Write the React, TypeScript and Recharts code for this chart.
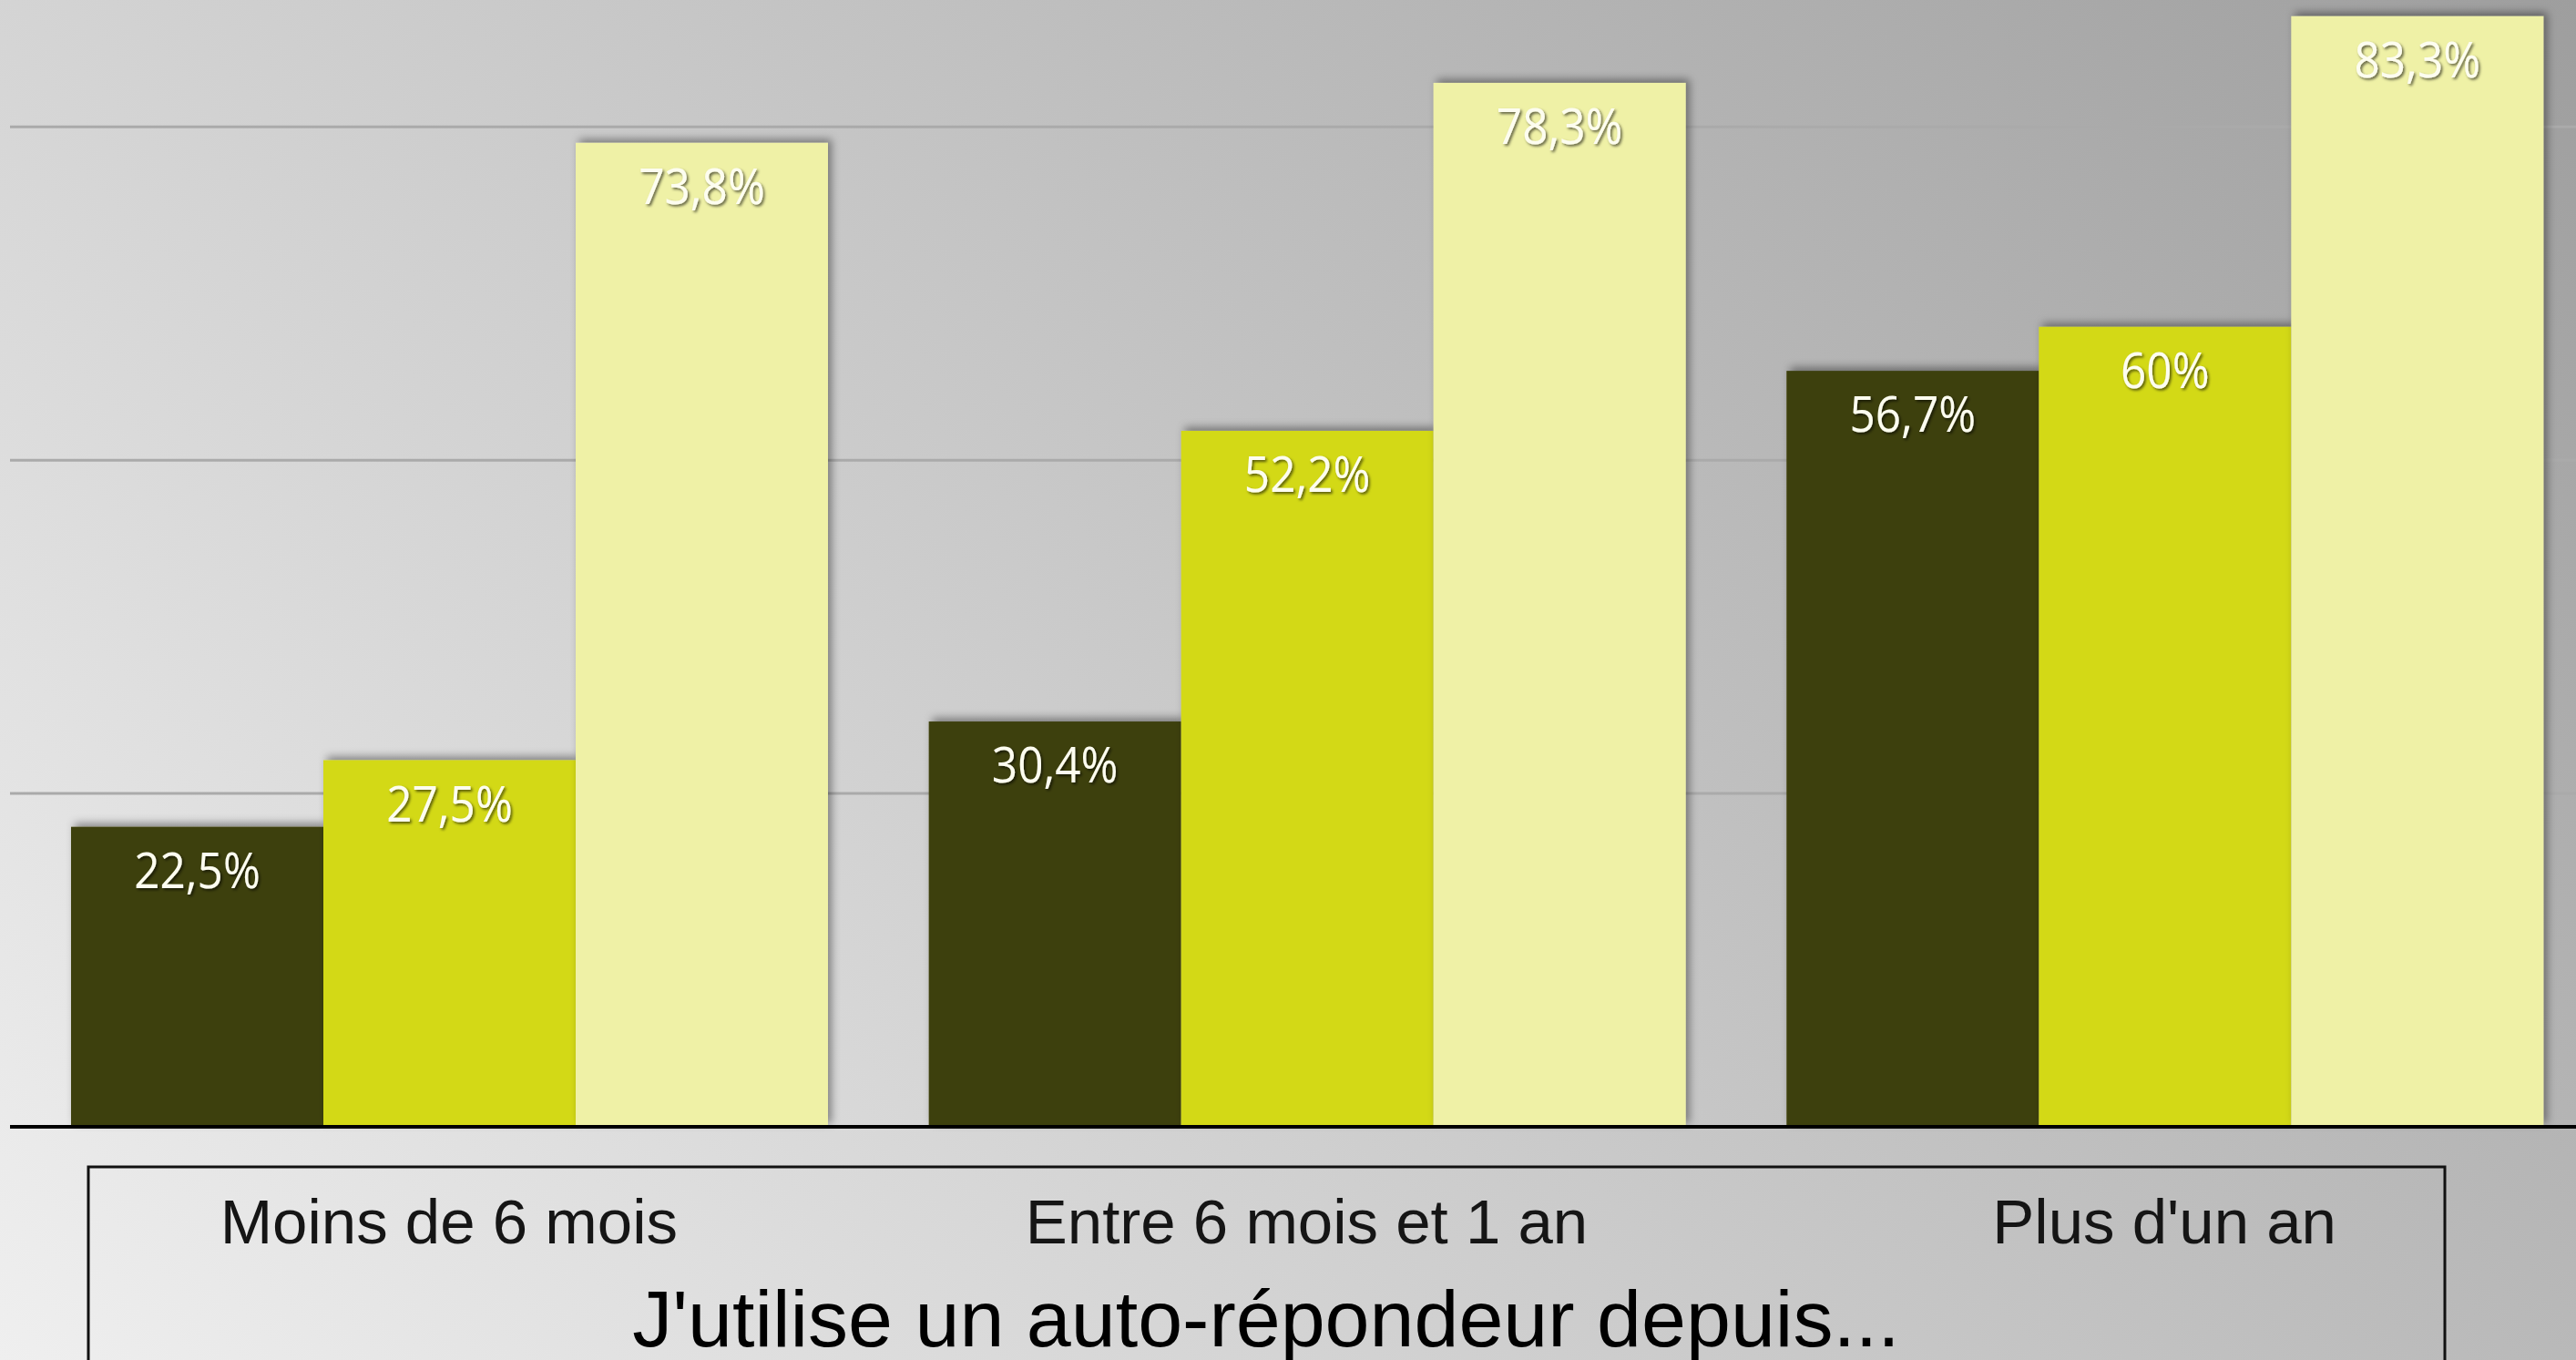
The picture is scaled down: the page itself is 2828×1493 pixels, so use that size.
import { BarChart, Bar, XAxis, YAxis, CartesianGrid, LabelList } from "recharts";

const categories = ["Moins de 6 mois", "Entre 6 mois et 1 an", "Plus d'un an"];
const serieA = [22.5, 30.4, 56.7];
const serieB = [27.5, 52.2, 60];
const serieC = [73.8, 78.3, 83.3];
const gridTicks = [25, 50, 75];
const title = "J'utilise un auto-répondeur depuis...";

const data = categories.map((name, i) => ({
  name,
  a: serieA[i],
  b: serieB[i],
  c: serieC[i],
}));

const fmt = (v: number) => String(v).replace(".", ",") + "%";

const BarShape = (p: any) => (
  <rect
    x={p.x}
    y={p.y}
    width={p.width}
    height={p.height}
    fill={p.fill}
    filter="url(#barShadow)"
  />
);

const ValueLabel = (p: any) => {
  const cx = p.x + p.width / 2;
  return (
    <text
      x={cx}
      y={p.y + 67}
      textAnchor="middle"
      fontFamily="'Open Sans', sans-serif"
      fontSize={55}
      fill="#fdfdf0"
      filter="url(#textShadow)"
      transform={`translate(${cx} 0) scale(0.9 1) translate(${-cx} 0)`}
    >
      {fmt(p.value)}
    </text>
  );
};

const CategoryTick = (p: any) => (
  <text
    x={p.x}
    y={p.y + 128}
    textAnchor="middle"
    fontFamily="'Liberation Sans', Arial, sans-serif"
    fontSize={69}
    fill="#151515"
  >
    {p.payload.value}
  </text>
);

export default function App() {
  return (
    <div
      style={{
        position: "absolute",
        left: 0,
        top: 0,
        width: 2828,
        height: 1493,
        overflow: "hidden",
        background: "linear-gradient(47deg, #efefef, #9e9e9e)",
      }}
    >
      {/* plot top sits just above the visible frame, like the cropped original */}
      <div style={{ position: "absolute", left: 0, top: -10 }}>
        <BarChart
          width={2850}
          height={1503}
          data={data}
          margin={{ top: 0, right: 3, bottom: 0, left: 11 }}
          barGap={0}
          barCategoryGap={56}
        >
          <defs>
            <filter id="barShadow" x="-20%" y="-10%" width="140%" height="120%">
              <feDropShadow dx="4" dy="-4" stdDeviation="5" floodColor="#000" floodOpacity="0.4" />
            </filter>
            <filter id="textShadow" x="-20%" y="-30%" width="140%" height="160%">
              <feDropShadow dx="2" dy="2" stdDeviation="1.5" floodColor="#000" floodOpacity="0.6" />
            </filter>
          </defs>
          <CartesianGrid vertical={false} stroke="#aaaaaa" strokeWidth={3} />
          <YAxis hide domain={[0, 85.2]} ticks={gridTicks} />
          <XAxis
            dataKey="name"
            height={256}
            padding={{ left: 11, right: 0 }}
            axisLine={{ stroke: "#000", strokeWidth: 4 }}
            tickLine={false}
            tickSize={0}
            tickMargin={0}
            tick={<CategoryTick />}
            interval={0}
          />
          <Bar dataKey="a" fill="#3d3f0a" shape={<BarShape />} isAnimationActive={false}>
            <LabelList dataKey="a" content={<ValueLabel />} />
          </Bar>
          <Bar dataKey="b" fill="#d3d919" shape={<BarShape />} isAnimationActive={false}>
            <LabelList dataKey="b" content={<ValueLabel />} />
          </Bar>
          <Bar dataKey="c" fill="#eff1a6" shape={<BarShape />} isAnimationActive={false}>
            <LabelList dataKey="c" content={<ValueLabel />} />
          </Bar>
        </BarChart>
      </div>
      <svg
        width={2828}
        height={1493}
        style={{ position: "absolute", left: 0, top: 0, pointerEvents: "none" }}
      >
        <rect x={97} y={1281} width={2587} height={300} fill="none" stroke="#111" strokeWidth={3} />
        <text
          x={1390}
          y={1478}
          textAnchor="middle"
          fontFamily="'Liberation Sans', Arial, sans-serif"
          fontSize={88}
          fill="#000"
        >
          {title}
        </text>
      </svg>
    </div>
  );
}
